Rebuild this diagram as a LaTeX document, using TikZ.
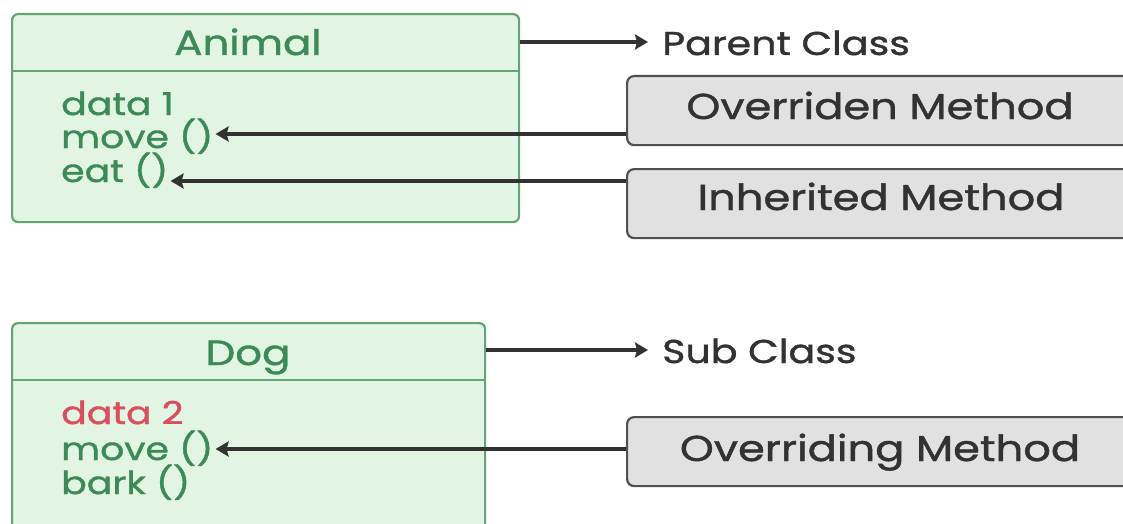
\documentclass[tikz,border=0pt]{standalone}
\usepackage{fontspec}
\setmainfont{Poppins}[FakeStretch=1.2, FakeBold=1.2]
\usetikzlibrary{arrows.meta}
\definecolor{classfill}{HTML}{E2F5E2}
\definecolor{classline}{HTML}{62A473}
\definecolor{classtext}{HTML}{3C8A58}
\definecolor{datared}{HTML}{D8505C}
\definecolor{boxfill}{HTML}{E1E1E1}
\definecolor{boxline}{HTML}{505050}
\definecolor{ink}{HTML}{323232}
\tikzset{
  classbox/.style={draw=classline, fill=classfill, line width=2.2pt, rounded corners=6pt, inner sep=0pt, anchor=north west},
  divider/.style={draw=classline, line width=2.2pt},
  classname/.style={text=classtext, font=\fontsize{35}{35}\selectfont, inner sep=0pt, anchor=base},
  member/.style={text=classtext, font=\fontsize{31.5}{31.5}\selectfont, inner sep=2pt, anchor=base west},
  methodbox/.style={draw=boxline, fill=boxfill, line width=2.2pt, rounded corners=7pt, inner sep=0pt, anchor=north west},
  methodlabel/.style={text=ink, font=\fontsize{36}{36}\selectfont, inner sep=0pt, anchor=base},
  kindlabel/.style={text=ink, font=\fontsize{33}{33}\selectfont, inner sep=0pt, anchor=base west},
  conn/.style={draw=ink, line width=4.4pt, -{Stealth[length=13pt, width=15pt, inset=2pt]}},
}
\begin{document}
\begin{tikzpicture}[x=1pt, y=-1pt]
\useasboundingbox (0,0) rectangle (1123,524);
\clip (0,0) rectangle (1123,524);
\fill[white] (0,0) rectangle (1123,524);

% Animal class
\node[classbox, minimum width=507pt, minimum height=208pt] (abox) at (11,13) {};
\draw[divider] (abox.west |- 0,71) -- (abox.east |- 0,71);
\node[classname] (animal) at (248,55) {Animal};
\node[member] (adata) at (59,115) {data 1};
\node[member] (amove) at (59,148) {move ()};
\node[member] (aeat)  at (59,182) {eat ()};

% Dog class
\node[classbox, minimum width=473pt, minimum height=230pt] (dbox) at (11,322) {};
\draw[divider] (dbox.west |- 0,380) -- (dbox.east |- 0,380);
\node[classname] (dog) at (248,365) {Dog};
\node[member, text=datared] (ddata) at (59,424) {data 2};
\node[member] (dmove) at (59,460) {move ()};
\node[member] (dbark) at (59,494) {bark ()};

% Labels on the right
\node[kindlabel] (parent) at (662,55) {Parent Class};
\node[kindlabel] (sub) at (662,363) {Sub Class};

\node[methodbox, minimum width=540pt, minimum height=69pt] (ovr) at (626,75) {};
\node[methodlabel] (ovrtext) at (880,119) {Overriden Method};
\node[methodbox, minimum width=540pt, minimum height=69pt] (inh) at (626,168) {};
\node[methodlabel] (inhtext) at (881,210) {Inherited Method};
\node[methodbox, minimum width=540pt, minimum height=69pt] (ovg) at (626,416) {};
\node[methodlabel] (ovgtext) at (880,461) {Overriding Method};

% Connectors
\draw[conn, shorten >=14pt] (abox.east |- 0,42) -- (parent.west |- 0,42);
\draw[conn, shorten >=14pt] (dbox.east |- 0,350) -- (sub.west |- 0,350);
\draw[conn] (ovr.west |- 0,134) -- (amove.east |- 0,134);
\draw[conn] (inh.west |- 0,181) -- (aeat.east |- 0,181);
\draw[conn] (ovg.west |- 0,449) -- (dmove.east |- 0,449);
\end{tikzpicture}
\end{document}
